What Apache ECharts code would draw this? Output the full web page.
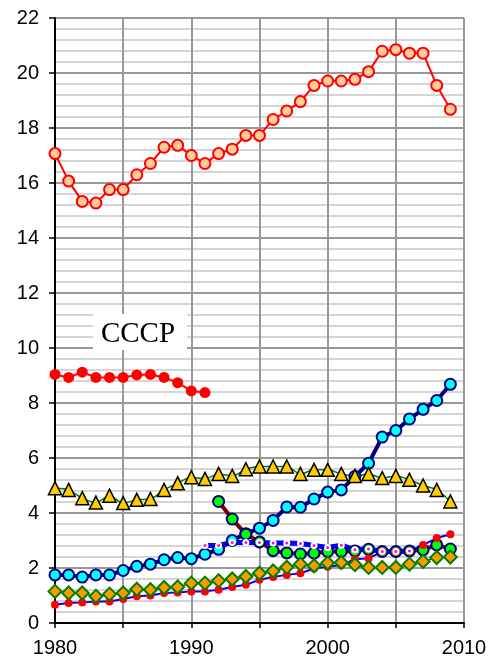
<!DOCTYPE html>
<html>
<head>
<meta charset="utf-8">
<script src="https://cdn.jsdelivr.net/npm/echarts@6/dist/echarts.min.js"></script>
<style>
  html, body { margin: 0; padding: 0; background: #fff; }
  #chart { width: 504px; height: 662px; }
</style>
</head>
<body>
<div id="chart"></div>
<script>
// years on the x axis
const years = [1980, 1981, 1982, 1983, 1984, 1985, 1986, 1987, 1988, 1989,
  1990, 1991, 1992, 1993, 1994, 1995, 1996, 1997, 1998, 1999,
  2000, 2001, 2002, 2003, 2004, 2005, 2006, 2007, 2008, 2009];

// series values
const peachSeries = [17.07, 16.07, 15.33, 15.27, 15.76, 15.76, 16.30, 16.71, 17.30, 17.37,
  17.00, 16.71, 17.07, 17.23, 17.73, 17.73, 18.31, 18.62, 18.96, 19.55,
  19.71, 19.71, 19.77, 20.05, 20.79, 20.85, 20.72, 20.72, 19.55, 18.68];
const ussrSeries = [9.04, 8.93, 9.12, 8.93, 8.93, 8.93, 9.02, 9.04, 8.93, 8.74, 8.44, 8.38]; // 1980-1991
const triangleSeries = [4.90, 4.84, 4.54, 4.38, 4.63, 4.36, 4.48, 4.51, 4.84, 5.08,
  5.30, 5.24, 5.42, 5.35, 5.59, 5.69, 5.69, 5.69, 5.42, 5.57,
  5.57, 5.42, 5.35, 5.42, 5.27, 5.35, 5.21, 5.00, 4.84, 4.42];
const cyanSeries = [1.75, 1.75, 1.67, 1.75, 1.75, 1.91, 2.06, 2.14, 2.30, 2.38,
  2.34, 2.50, 2.68, 3.00, 3.25, 3.45, 3.73, 4.22, 4.21, 4.51,
  4.76, 4.84, 5.33, 5.81, 6.76, 7.00, 7.42, 7.77, 8.09, 8.68];
const greenSeries = [4.42, 3.78, 3.23, 2.95, 2.63, 2.55, 2.51, 2.54, 2.60, 2.60,
  2.62, 2.68, 2.60, 2.60, 2.62, 2.66, 2.84, 2.69]; // 1992-2009
const magentaSeries = [2.82, 2.82, 2.93, 2.93, 2.93, 2.91, 2.91, 2.89, 2.82, 2.75,
  2.83, 2.66, 2.69, 2.60, 2.60, 2.62]; // 1991-2006
const diamondSeries = [1.15, 1.09, 1.09, 0.97, 1.05, 1.09, 1.23, 1.21, 1.29, 1.31,
  1.45, 1.45, 1.54, 1.60, 1.69, 1.81, 1.89, 2.03, 2.14, 2.08,
  2.18, 2.20, 2.12, 2.02, 2.02, 2.02, 2.14, 2.24, 2.38, 2.40];
const redSeries = [0.66, 0.73, 0.75, 0.78, 0.78, 0.87, 0.97, 1.00, 1.09, 1.11,
  1.15, 1.15, 1.21, 1.31, 1.39, 1.57, 1.67, 1.75, 1.81, 1.98,
  2.05, 2.10, 2.32, 2.35, 2.60, 2.60, 2.62, 2.84, 3.09, 3.23];

const xTickLabels = [1980, 1990, 2000, 2010];
const yMin = 0, yMax = 22, yStep = 2;

function pairs(values, startYear) {
  const start = years.indexOf(startYear);
  return values.map((v, i) => [years[start + i], v]);
}

function lineSeries(values, startYear, opts) {
  return Object.assign({
    type: 'line',
    data: pairs(values, startYear),
    symbol: 'circle',
    animation: false,
    emphasis: { disabled: true },
  }, opts);
}

const chart = echarts.init(document.getElementById('chart'));
chart.setOption({
  backgroundColor: '#fff',
  animation: false,
  grid: { left: 55, right: 40, top: 18, bottom: 39 },
  xAxis: {
    type: 'value',
    min: 1980,
    max: 2010,
    interval: 5,
    axisLine: { lineStyle: { color: '#000', width: 2 } },
    axisTick: { show: true, length: 5, lineStyle: { color: '#000', width: 1.5 } },
    axisLabel: {
      margin: 15,
      fontFamily: 'Liberation Sans',
      fontSize: 20,
      color: '#000',
      formatter: (v) => (xTickLabels.indexOf(v) >= 0 ? String(v) : ''),
    },
    splitLine: { show: true, lineStyle: { color: '#999', width: 2 } },
  },
  yAxis: {
    type: 'value',
    min: yMin,
    max: yMax,
    interval: yStep,
    axisLine: { show: true, lineStyle: { color: '#000', width: 2 } },
    axisTick: { show: true, length: 6, lineStyle: { color: '#000', width: 1.5 } },
    axisLabel: {
      margin: 16,
      fontFamily: 'Liberation Sans',
      fontSize: 20,
      color: '#000',
    },
    splitLine: { show: true, lineStyle: { color: '#999', width: 2 } },
    minorTick: { show: false, splitNumber: 5 },
    minorSplitLine: { show: true, lineStyle: { color: '#c8c8c8', width: 1.5 } },
  },
  graphic: [
    {
      type: 'rect', z: 50,
      shape: { x: 93, y: 314, width: 94, height: 36 },
      style: { fill: '#fff' },
    },
    {
      type: 'text', z: 51, x: 138, y: 334,
      style: {
        text: 'CCCP', fill: '#000',
        font: '29px "Liberation Serif"',
        align: 'center', verticalAlign: 'middle',
      },
    },
  ],
  series: [
    lineSeries(peachSeries, 1980, {
      symbolSize: 11,
      itemStyle: { color: '#FFCC99', borderColor: '#FF0000', borderWidth: 2 },
      lineStyle: { color: '#FF0000', width: 2 },
    }),
    lineSeries(ussrSeries, 1980, {
      symbolSize: 11,
      itemStyle: { color: '#FF0000', borderWidth: 0 },
      lineStyle: { color: '#FF0000', width: 2 },
    }),
    lineSeries(cyanSeries, 1980, {
      symbolSize: 11,
      itemStyle: { color: '#00FFFF', borderColor: '#000080', borderWidth: 2 },
      lineStyle: { color: '#000080', width: 4 },
    }),
    lineSeries(triangleSeries, 1980, {
      symbol: 'triangle',
      symbolSize: 13,
      smooth: 0.3,
      itemStyle: { color: '#FFCC00', borderColor: '#000', borderWidth: 1.5 },
      lineStyle: { color: '#008000', width: 1.5 },
    }),
    lineSeries(greenSeries, 1992, {
      symbolSize: 11,
      itemStyle: { color: '#00FF00', borderColor: '#000080', borderWidth: 2 },
      lineStyle: { color: '#800000', width: 4 },
    }),
    lineSeries(redSeries, 1980, {
      symbolSize: 8,
      itemStyle: { color: '#FF0000', borderWidth: 0 },
      lineStyle: { color: '#0000FF', width: 2 },
    }),
    lineSeries(diamondSeries, 1980, {
      symbol: 'diamond',
      symbolSize: 13,
      itemStyle: { color: '#FF9900', borderColor: '#008000', borderWidth: 2 },
      lineStyle: { color: '#008000', width: 1.5 },
    }),
    lineSeries(magentaSeries, 1991, {
      symbolSize: 5,
      itemStyle: { color: '#FF00FF', borderColor: '#FFFFFF', borderWidth: 2 },
      lineStyle: { color: '#0000FF', width: 5 },
    }),
  ],
});
</script>
</body>
</html>
